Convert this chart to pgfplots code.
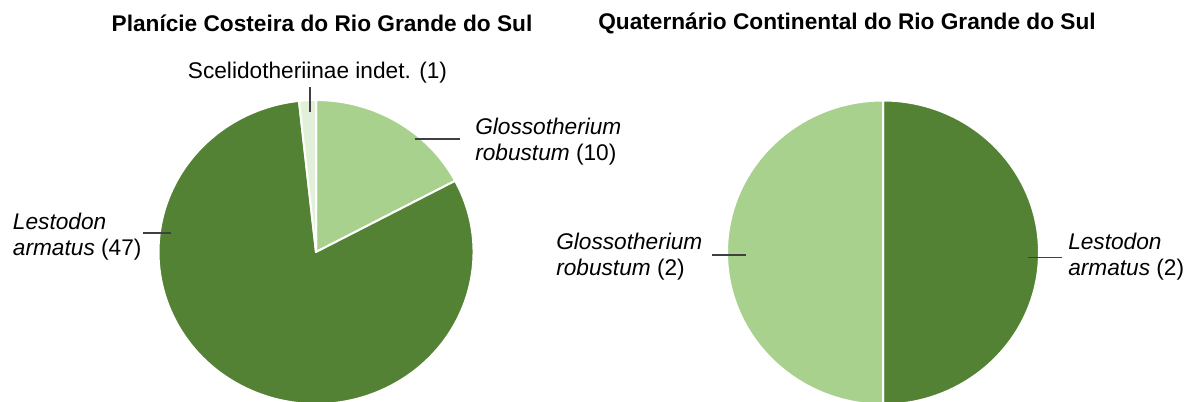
\documentclass[border=0pt]{standalone}
\usepackage{pgfplots}
\pgfplotsset{compat=1.18}
\usepackage{pgfplotstable}
\usepackage{fontspec}
\setmainfont{Liberation Sans}
\definecolor{dkg}{HTML}{548235}
\definecolor{ltg}{HTML}{A9D18E}
\definecolor{plg}{HTML}{E2F0D9}
\definecolor{ldr}{HTML}{404040}

% Planicie Costeira: Glossotherium, Lestodon, Scelidotheriinae
\pgfplotstableread{
label value
G 10
L 47
S 1
}\leftdata
% Quaternario Continental: Lestodon, Glossotherium
\pgfplotstableread{
label value
L 2
G 2
}\rightdata

% #1 start angle, #2 end angle, #3 colour, #4 x radius, #5 y radius
\newcommand\pieslice[5]{%
  \fill[#3, draw=white, line width=1.5pt, line join=round]
    (axis cs:0,0) -- (axis cs:{cos(#1)},{sin(#1)}) arc[start angle=#1, end angle=#2, x radius=#4, y radius=#5] -- cycle;}

\pgfplotsset{pieaxis/.style={hide axis, scale only axis, xmin=-1, xmax=1, ymin=-1, ymax=1,
  clip=false, anchor=center}}

\begin{document}
\begin{tikzpicture}[x=0.75pt,y=0.75pt]
\useasboundingbox (0,0) rectangle (1190,401);
\newcommand\lbl{\fontsize{17}{19.5}\selectfont}

% angles, left pie
\pgfplotstablegetelem{0}{value}\of\leftdata \let\lva\pgfplotsretval
\pgfplotstablegetelem{1}{value}\of\leftdata \let\lvb\pgfplotsretval
\pgfplotstablegetelem{2}{value}\of\leftdata \let\lvc\pgfplotsretval
\pgfmathsetmacro\ltot{\lva+\lvb+\lvc}
\pgfmathsetmacro\lA{90-(\lva/\ltot)*360}
\pgfmathsetmacro\lB{\lA-(\lvb/\ltot)*360}
% angles, right pie
\pgfplotstablegetelem{0}{value}\of\rightdata \let\rva\pgfplotsretval
\pgfplotstablegetelem{1}{value}\of\rightdata \let\rvb\pgfplotsretval
\pgfmathsetmacro\rtot{\rva+\rvb}
\pgfmathsetmacro\rA{90-(\rva/\rtot)*360}

\begin{axis}[pieaxis, width=236.25pt, height=228pt, at={(237pt,111.75pt)}]
\pgfplotsextra{%
  \pieslice{90}{\lA}{ltg}{118.125pt}{114pt}%
  \pieslice{\lA}{\lB}{dkg}{118.125pt}{114pt}%
  \pieslice{\lB}{-270}{plg}{118.125pt}{114pt}%
}
\end{axis}

\begin{axis}[pieaxis, width=234pt, height=228pt, at={(662.25pt,111.375pt)}]
\pgfplotsextra{%
  \pieslice{90}{\rA}{dkg}{117pt}{114pt}%
  \pieslice{\rA}{-270}{ltg}{117pt}{114pt}%
}
\end{axis}

% titles
\node[font=\lbl\bfseries] at (322,378) {Planície Costeira do Rio Grande do Sul};
\node[font=\lbl\bfseries] at (847,378) {Quaternário Continental do Rio Grande do Sul};

% leader lines
\draw[ldr, line width=0.9pt] (310,314) -- (310,289);
\draw[ldr, line width=0.9pt] (415,262) -- (460,262);
\draw[ldr, line width=0.9pt] (143,168) -- (171,168);
\draw[ldr, line width=0.9pt] (712,146) -- (746,146);
\draw[ldr, line width=0.9pt] (1028,143.3) -- (1062,143.3);

% labels
\node[font=\lbl] at (317.5,328) {Scelidotheriinae indet. (1)};
\node[font=\lbl, anchor=west, inner sep=0pt, align=left] at (475,259) {\textit{Glossotherium}\\\textit{robustum} (10)};
\node[font=\lbl, anchor=west, inner sep=0pt, align=left] at (12.7,164.5) {\textit{Lestodon}\\\textit{armatus} (47)};
\node[font=\lbl, anchor=west, inner sep=0pt, align=left] at (556,144) {\textit{Glossotherium}\\\textit{robustum} (2)};
\node[font=\lbl, anchor=west, inner sep=0pt, align=left] at (1068,144) {\textit{Lestodon}\\\textit{armatus} (2)};
\end{tikzpicture}
\end{document}
